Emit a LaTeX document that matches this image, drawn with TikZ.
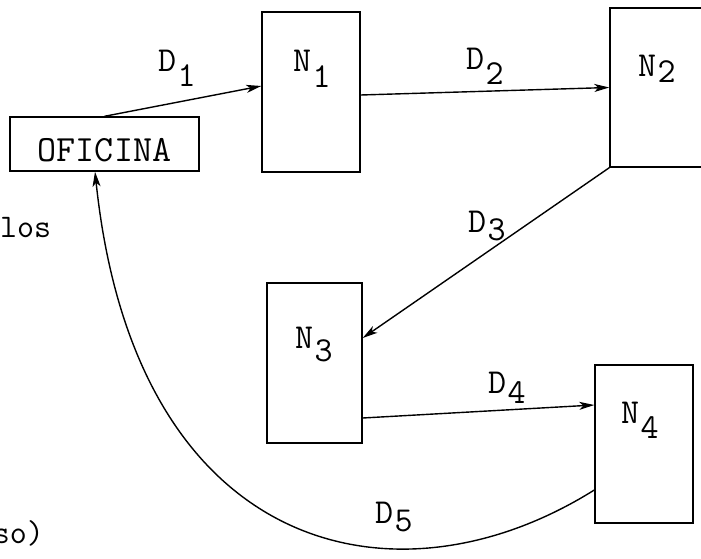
\documentclass[tikz,border=0pt]{standalone}
\usepackage{fontspec}
\usetikzlibrary{arrows.meta,calc}
\newcommand\lowsub[2]{\kern1.5pt\raisebox{-#1}{#2}}
\begin{document}
\begin{tikzpicture}[x=1pt,y=-1pt,
  box/.style={draw,line width=1.4pt,inner sep=0pt,rectangle},
  lbl/.style={font=\fontsize{35}{38}\selectfont\ttfamily,inner sep=0pt,anchor=base west},
  conn/.style={line width=1.4pt,-{Stealth[length=15pt,width=8pt,inset=4pt]}}]
\useasboundingbox (0,0) rectangle (701,559);
\clip (0,0) rectangle (701,559);

% boxes
\node[box,minimum width=189pt,minimum height=54pt,text height=35pt,text depth=0pt,
      font=\fontsize{37}{40}\selectfont\ttfamily] (ofi) at (104.5,144) {OFICINA};
\node[box,minimum width=98pt,minimum height=160pt] (n1) at (311,92) {};
\node[box,minimum width=110pt,minimum height=159pt] (n2) at (665,87.5) {};
\node[box,minimum width=95pt,minimum height=160pt] (n3) at (314.5,363) {};
\node[box,minimum width=98pt,minimum height=158pt] (n4) at (644,444) {};

% node labels
\node[lbl] (ln1) at (293,72) {N\lowsub{16pt}{1}};
\node[lbl] (ln2) at (638,77) {N\lowsub{6pt}{2}};
\node[lbl] (ln3) at (295,348) {N\lowsub{13pt}{3}};
\node[lbl] (ln4) at (621,423) {N\lowsub{15pt}{4}};

% connector labels
\node[lbl] (ld1) at (158,72) {D\lowsub{15pt}{1}};
\node[lbl] (ld2) at (466,70) {D\lowsub{15pt}{2}};
\node[lbl] (ld3) at (468,232) {D\lowsub{8pt}{3}};
\node[lbl] (ld4) at (488,393) {D\lowsub{10pt}{4}};
\node[lbl] (ld5) at (375,523) {D\lowsub{8pt}{5}};

% cut-off side texts (as in the reference)
\node[lbl,font=\fontsize{33}{36}\selectfont\ttfamily] (tlos) at (0,237) {los};
\node[lbl,anchor=base east,font=\fontsize{33}{36}\selectfont\ttfamily] (tso) at (44,543) {so)};

% connectors
\draw[conn] (ofi.north) -- ([yshift=6pt]n1.west);
\draw[conn] ([yshift=-3pt]n1.east) -- (n2.west);
\draw[conn] (n2.south west) -- ([yshift=25pt]n3.east);
\draw[conn] ([yshift=-55pt]n3.east) -- ([yshift=39pt]n4.west);
\draw[conn] ([yshift=-46pt]n4.west) .. controls (395,615) and (135,555) .. ([xshift=-9.5pt]ofi.south);
\end{tikzpicture}
\end{document}
